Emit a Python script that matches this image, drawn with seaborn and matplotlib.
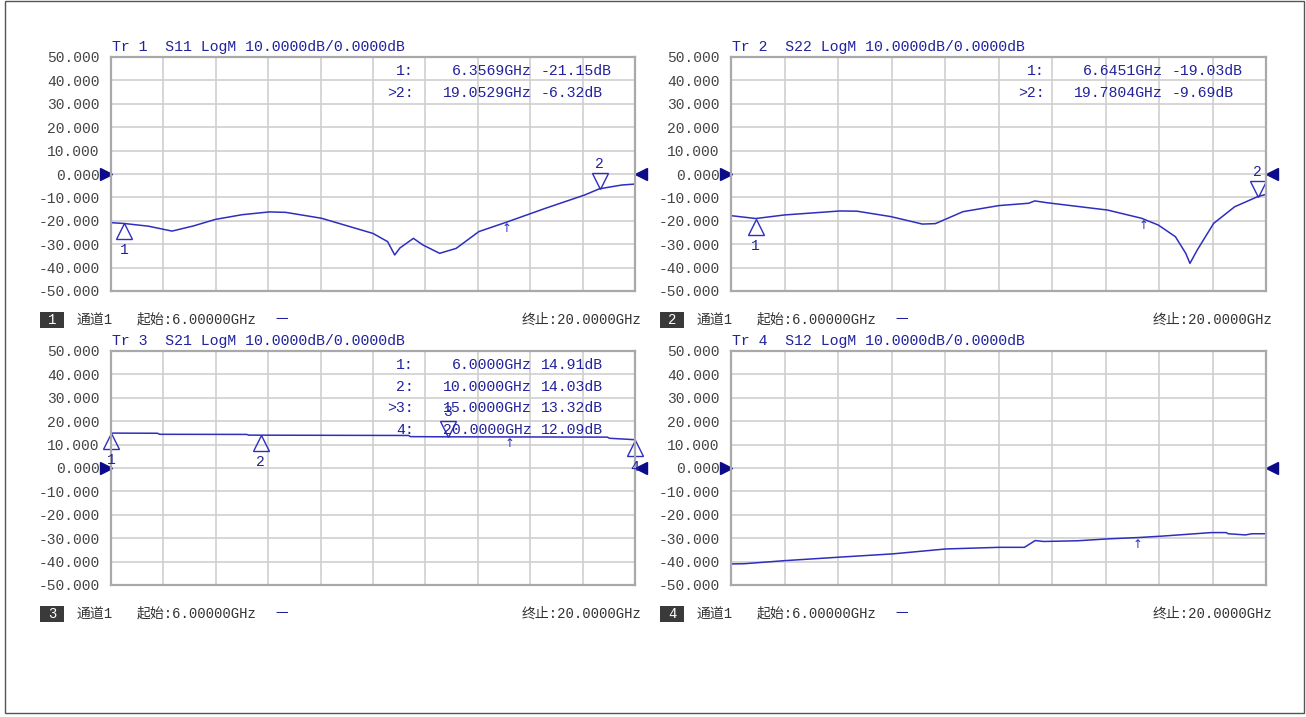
import numpy as np
import seaborn as sns
import matplotlib.pyplot as plt
from matplotlib import transforms
from matplotlib.patches import Rectangle

# traces (GHz, dB)
s11_freq = [6.0, 6.35, 7.0, 7.63, 8.2, 8.79, 9.5, 10.23, 10.67, 11.62, 12.3, 13.0, 13.39,
            13.58, 13.72, 14.08, 14.33, 14.78, 15.22, 15.83, 16.6, 17.6, 18.65, 19.05, 19.65, 20.0]
s11_db = [-20.8, -21.15, -22.3, -24.4, -22.2, -19.4, -17.4, -16.2, -16.4, -18.9, -22.1, -25.4, -28.9,
          -34.6, -31.6, -27.5, -30.3, -33.9, -31.8, -24.6, -20.4, -14.7, -9.0, -6.32, -4.7, -4.3]

s22_freq = [6.0, 6.65, 7.4, 8.85, 9.3, 10.18, 11.01, 11.35, 12.07, 13.01, 13.79, 13.95, 14.28,
            15.85, 16.74, 17.18, 17.63, 17.9, 18.01, 18.2, 18.63, 19.18, 19.78, 20.0]
s22_db = [-17.8, -19.03, -17.5, -15.8, -15.9, -18.2, -21.4, -21.2, -16.1, -13.5, -12.5, -11.5, -12.3,
          -15.4, -18.9, -21.8, -26.8, -33.9, -38.2, -32.5, -21.1, -14.0, -9.69, -8.7]

s21_freq = [6.0, 7.24, 7.3, 9.63, 9.68, 10.0, 13.95, 14.0, 15.0, 19.26, 19.32, 20.0]
s21_db = [14.91, 14.85, 14.4, 14.35, 14.05, 14.03, 13.9, 13.4, 13.32, 13.2, 12.7, 12.09]

s12_freq = [6.0, 6.35, 7.4, 8.84, 10.23, 11.62, 13.01, 13.68, 13.96, 14.18, 15.07, 15.85, 16.68,
            17.29, 18.57, 18.96, 19.01, 19.46, 19.63, 20.0]
s12_db = [-41.0, -40.9, -39.6, -38.1, -36.7, -34.6, -33.9, -33.9, -31.0, -31.4, -31.1, -30.3, -29.7,
          -29.1, -27.6, -27.6, -28.1, -28.6, -28.1, -28.1]

# markers per trace, and which one is active (drawn inverted, ">" in readout)
s11_mk_freq = [6.3569, 19.0529]
s11_mk_db = [-21.15, -6.32]
s22_mk_freq = [6.6451, 19.7804]
s22_mk_db = [-19.03, -9.69]
s21_mk_freq = [6.0, 10.0, 15.0, 20.0]
s21_mk_db = [14.91, 14.03, 13.32, 12.09]

titles = ["Tr 1  S11 LogM 10.0000dB/0.0000dB", "Tr 2  S22 LogM 10.0000dB/0.0000dB",
          "Tr 3  S21 LogM 10.0000dB/0.0000dB", "Tr 4  S12 LogM 10.0000dB/0.0000dB"]
cursor_freq = [16.58, 16.79, 16.66, 16.65]
start_label = "起始:6.00000GHz"
stop_label = "终止:20.0000GHz"

traces = [(s11_freq, s11_db, s11_mk_freq, s11_mk_db, 1),
          (s22_freq, s22_db, s22_mk_freq, s22_mk_db, 1),
          (s21_freq, s21_db, s21_mk_freq, s21_mk_db, 2),
          (s12_freq, s12_db, [], [], None)]

W, H = 1306, 717
sns.set_theme(style="white")
plt.rcParams["font.family"] = ["Liberation Mono", "Noto Sans CJK SC", "DejaVu Sans"]

TRACE = "#2e2ebf"
TXT_BLUE = "#22229e"
NAVY = "#0c0c8a"

fig = plt.figure(figsize=(W / 100, H / 100), dpi=100)
fig.add_artist(Rectangle((5 / W, 1 - 713 / H), 1299 / W, 712 / H, transform=fig.transFigure,
                         fill=False, edgecolor="#555555", lw=1.0))

# panel boxes in pixels: left, top, right, bottom
panels = [(111, 57, 635, 291), (731, 57, 1266, 291), (111, 351, 635, 585), (731, 351, 1266, 585)]


def fx(x):
    return x / W


def fy(y):
    return 1 - y / H


for i, (l, t, r, b) in enumerate(panels):
    ax = fig.add_axes([fx(l), fy(b), (r - l) / W, (b - t) / H])
    freq, db, mkf, mkd, active = traces[i]
    sns.lineplot(x=freq, y=db, ax=ax, color=TRACE, lw=1.1)

    ax.set_xlim(6, 20)
    ax.set_ylim(-50, 50)
    ax.set_xticks(np.linspace(6, 20, 11))
    ax.set_xticklabels([])
    yt = list(range(50, -51, -10))
    ax.set_yticks(yt)
    ax.set_yticklabels([f"{v:.3f}" for v in yt], fontsize=10.5, color="#444444")
    ax.tick_params(axis="both", length=0)
    ax.tick_params(axis="y", pad=8)
    ax.grid(True, color="#cfcfcf", lw=1.2)
    for sp in ax.spines.values():
        sp.set_color("#a9a9a9")
        sp.set_linewidth(1.6)

    ax.text(0, 1, titles[i], transform=transforms.offset_copy(ax.transAxes, fig=fig, x=1, y=3, units="dots"),
            ha="left", va="bottom", fontsize=10.7, color=TXT_BLUE)

    # zero reference arrows
    blend = transforms.blended_transform_factory(ax.transAxes, ax.transData)
    ax.plot([0], [0], marker=">", ms=8, color=NAVY, clip_on=False,
            transform=transforms.offset_copy(blend, fig=fig, x=-5, y=0, units="dots"))
    ax.plot([1], [0], marker="<", ms=8, color=NAVY, clip_on=False,
            transform=transforms.offset_copy(blend, fig=fig, x=6, y=0, units="dots"))

    # markers on the trace
    for k, (f, v) in enumerate(zip(mkf, mkd)):
        if k == active:
            tr = transforms.offset_copy(ax.transData, fig=fig, x=0, y=8, units="dots")
            ax.plot([f], [v], marker="v", ms=11.5, mfc="none", mec=TRACE, mew=1.0, transform=tr, clip_on=False)
            trl = transforms.offset_copy(ax.transData, fig=fig, x=0, y=25, units="dots")
            ax.text(f, v, str(k + 1), transform=trl, ha="center", va="center", fontsize=10.5, color=TXT_BLUE)
        else:
            tr = transforms.offset_copy(ax.transData, fig=fig, x=0, y=-8, units="dots")
            ax.plot([f], [v], marker="^", ms=11.5, mfc="none", mec=TRACE, mew=1.0, transform=tr, clip_on=False)
            trl = transforms.offset_copy(ax.transData, fig=fig, x=0, y=-27, units="dots")
            ax.text(f, v, str(k + 1), transform=trl, ha="center", va="center", fontsize=10.5, color=TXT_BLUE)

        # readout table, top right
        row_y = -14 - 21.7 * k
        tag = (">" if k == active else "") + f"{k + 1}:"
        ax.text(1, 1, tag, transform=transforms.offset_copy(ax.transAxes, fig=fig, x=-221, y=row_y, units="dots"),
                ha="right", va="center", fontsize=10.7, color=TXT_BLUE)
        ax.text(1, 1, f"{f:.4f}GHz", transform=transforms.offset_copy(ax.transAxes, fig=fig, x=-103, y=row_y, units="dots"),
                ha="right", va="center", fontsize=10.7, color=TXT_BLUE)
        ax.text(1, 1, f"{v:.2f}dB", transform=transforms.offset_copy(ax.transAxes, fig=fig, x=-94, y=row_y, units="dots"),
                ha="left", va="center", fontsize=10.7, color=TXT_BLUE)

    # small cursor arrow on the trace
    cy = np.interp(cursor_freq[i], freq, db)
    ax.text(cursor_freq[i], cy, "↑", ha="center", va="top", fontsize=8.5, color=TRACE, family="DejaVu Sans")

    # channel status line under the panel
    yc = b + 29
    fig.add_artist(Rectangle((fx(l - 71), fy(b + 37)), 24 / W, 16 / H, transform=fig.transFigure,
                             facecolor="#3a3a3a", edgecolor="none"))
    fig.text(fx(l - 59), fy(yc), str(i + 1), ha="center", va="center", color="white", fontsize=10)
    fig.text(fx(l - 34), fy(yc), "通道1", ha="left", va="center", color="#333333", fontsize=10)
    fig.text(fx(l + 26), fy(yc), start_label, ha="left", va="center", color="#333333", fontsize=10)
    fig.text(fx(l + 164), fy(yc), "一", ha="left", va="center", color=TXT_BLUE, fontsize=9)
    fig.text(fx(r + 6), fy(yc), stop_label, ha="right", va="center", color="#333333", fontsize=10)

fig.savefig("out.png", dpi=100)
